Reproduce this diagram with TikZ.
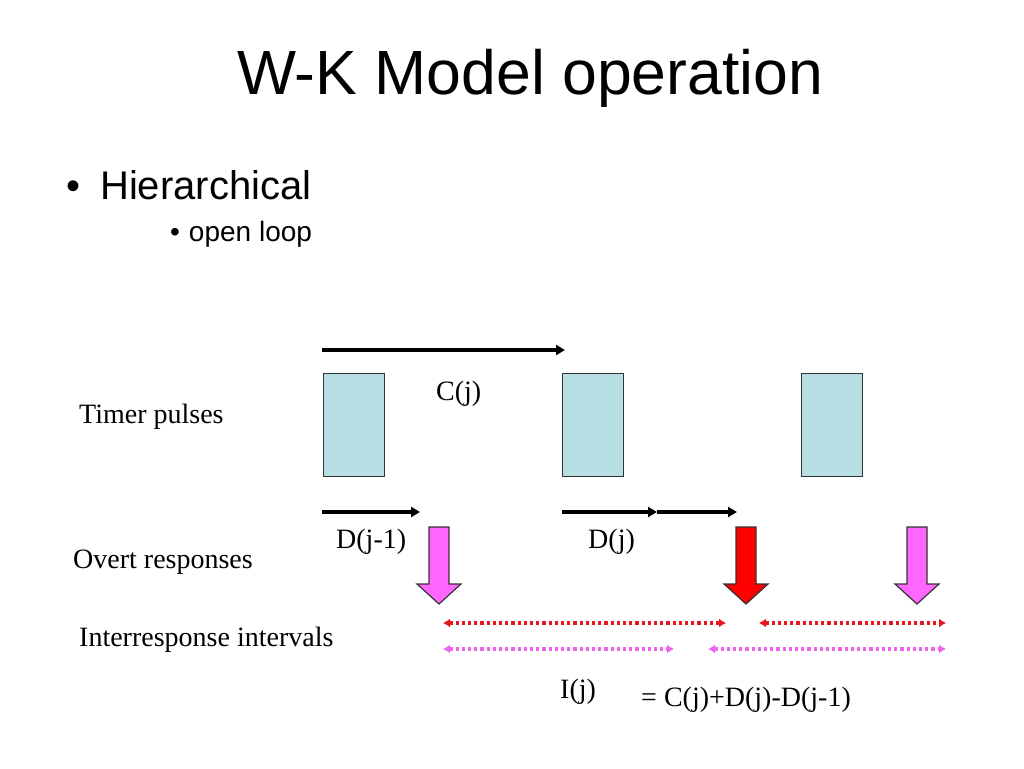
\documentclass[tikz,border=0pt]{standalone}
\usepackage{fontspec}
\setmainfont{Liberation Serif}
\newfontfamily\arialf{Liberation Sans}
\usetikzlibrary{arrows.meta}
\definecolor{pulse}{HTML}{B7DEE3}
\definecolor{pinkfill}{HTML}{FF66FF}
\definecolor{reddot}{HTML}{E8141E}
\definecolor{pinkdot}{HTML}{EE66EE}
\tikzset{
  pulsebox/.style={draw=black!80, line width=1pt, fill=pulse, minimum width=61pt, minimum height=103pt, inner sep=0pt},
  lbl/.style={font=\fontsize{28}{32}\selectfont, inner sep=0pt, anchor=base west},
  timearrow/.style={line width=3.6pt, -{Triangle[length=9pt,width=10pt]}},
  iri/.style={dash pattern=on 3.2pt off 3pt, line width=3.4pt, {Latex[length=7pt,width=9pt]}-{Latex[length=7pt,width=9pt]}},
  blockarrow/.style={draw=black!80, line width=1.2pt, line join=miter}
}
\begin{document}
\begin{tikzpicture}[x=1pt,y=-1pt]
\useasboundingbox (0,0) rectangle (1024,768);
% title and bullets
\node[font=\arialf\fontsize{62.5}{70}\selectfont, inner sep=0pt, anchor=base] (title) at (530,94) {W-K Model operation};
\node[font=\arialf\fontsize{40}{44}\selectfont, inner sep=0pt, anchor=base west] (b1) at (66,199) {\textbullet\hspace{20pt}Hierarchical};
\node[font=\arialf\fontsize{28}{32}\selectfont, inner sep=0pt, anchor=base west] (b2) at (170,241) {\textbullet\hspace{9pt}open loop};
% row labels
\node[lbl] (tp) at (79,423) {Timer pulses};
\node[lbl] (ov) at (73,568) {Overt responses};
\node[lbl] (ii) at (79,646) {Interresponse intervals};
% pulses
\node[pulsebox] (p1) at (353.5,424.5) {};
\node[pulsebox] (p2) at (593,424.5) {};
\node[pulsebox] (p3) at (832,424.5) {};
% C(j) arrow
\coordinate (c0) at (322,350);
\coordinate (c1) at (565,350);
\draw[timearrow] (c0) -- (c1);
\node[lbl] (cj) at (436,400) {C(j)};
% D arrows
\coordinate (d0) at (322,512);
\coordinate (d1) at (420,512);
\draw[timearrow] (d0) -- (d1);
\coordinate (e0) at (562,512);
\coordinate (e1) at (657,512);
\coordinate (e2) at (737,512);
\draw[timearrow] (e0) -- (e1);
\draw[timearrow] (e1) -- (e2);
\node[lbl] (dj1) at (336,548) {D(j-1)};
\node[lbl] (dj) at (588,548) {D(j)};
% block arrows (responses)
\newcommand{\blockarr}[2]{%
  \draw[blockarrow, fill=#2] (#1-10,527) -- (#1+10,527) -- (#1+10,584) -- (#1+22,584) -- (#1,604) -- (#1-22,584) -- (#1-10,584) -- cycle;}
\blockarr{439}{pinkfill}
\blockarr{746}{red}
\blockarr{917}{pinkfill}
% interresponse intervals
\coordinate (r1a) at (443,623); \coordinate (r1b) at (726,623);
\coordinate (r2a) at (759,623); \coordinate (r2b) at (946,623);
\coordinate (q1a) at (443,649); \coordinate (q1b) at (674,649);
\coordinate (q2a) at (708,649); \coordinate (q2b) at (946,649);
\draw[iri, reddot] (r1a) -- (r1b);
\draw[iri, reddot] (r2a) -- (r2b);
\draw[iri, pinkdot] (q1a) -- (q1b);
\draw[iri, pinkdot] (q2a) -- (q2b);
% formula
\node[lbl] (ij) at (560,698) {I(j)};
\node[lbl] (eq) at (641,706) {= C(j)+D(j)-D(j-1)};
\end{tikzpicture}
\end{document}
